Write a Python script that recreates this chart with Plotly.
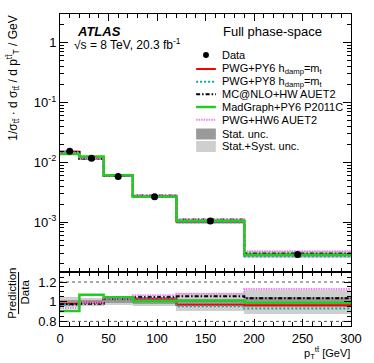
import plotly.graph_objects as go

# ---------------- data ----------------
bin_edges = [0, 20, 45, 75, 120, 190, 300]
data_vals = [0.0153, 0.0117, 0.0058, 0.00265, 0.00104, 0.000288]

pwg_py6 = [0.0150, 0.0116, 0.00597, 0.00273, 0.00101, 0.000278]
pwg_py8 = [0.0148, 0.0115, 0.00595, 0.00274, 0.000993, 0.000268]
mcatnlo = [0.0149, 0.0115, 0.00597, 0.00278, 0.00110, 0.000298]
madgraph = [0.0138, 0.0125, 0.00606, 0.00266, 0.00105, 0.000285]
pwg_hw6 = [0.0143, 0.0116, 0.00597, 0.00282, 0.00112, 0.000325]

r_pwg_py6 = [0.98, 0.99, 1.03, 1.03, 0.97, 0.965]
r_pwg_py8 = [0.97, 0.985, 1.025, 1.035, 0.955, 0.93]
r_mcatnlo = [0.975, 0.98, 1.03, 1.05, 1.055, 1.035]
r_madgraph = [0.905, 1.07, 1.045, 1.005, 1.01, 0.99]
r_pwg_hw6 = [0.935, 0.99, 1.03, 1.065, 1.08, 1.13]

stat_unc = [0.02, 0.015, 0.015, 0.02, 0.03, 0.05]
syst_unc = [0.05, 0.04, 0.035, 0.045, 0.09, 0.12]

legend_labels = ["Data", "PWG+PY6 h<sub>damp</sub>=m<sub>t</sub>",
                 "PWG+PY8 h<sub>damp</sub>=m<sub>t</sub>", "MC@NLO+HW AUET2",
                 "MadGraph+PY6 P2011C", "PWG+HW6 AUET2",
                 "Stat. unc.", "Stat.+Syst. unc."]

# ---------------- helpers ----------------
W, H = 374, 363
L, R, T, B = 60, 355, 14, 326
SPLIT = 271.5


def px(x):
    return (x - L) / (R - L)


def py(y):
    return (B - y) / (B - T)


centers = [(bin_edges[i] + bin_edges[i + 1]) / 2 for i in range(len(data_vals))]
widths = [bin_edges[i + 1] - bin_edges[i] for i in range(len(data_vals))]

FONT = "Liberation Sans, Arial, Helvetica, sans-serif"
STAT_C = "#9a9a9a"
SYST_C = "#cfcfcf"

series = [
    ("PWG+PY6", pwg_py6, r_pwg_py6, dict(color="#ff0000", width=2, dash="solid")),
    ("PWG+PY8", pwg_py8, r_pwg_py8, dict(color="#12a5a8", width=2, dash="2px,2px")),
    ("MC@NLO", mcatnlo, r_mcatnlo, dict(color="#000000", width=2, dash="4px,2px,1.5px,2px")),
    ("PWG+HW6", pwg_hw6, r_pwg_hw6, dict(color="#ee80ee", width=2, dash="1.5px,1px")),
    ("MadGraph", madgraph, r_madgraph, dict(color="#22cc22", width=2.5, dash="solid")),
]

fig = go.Figure()

# bands upper
fig.add_trace(go.Bar(x=centers, width=widths,
                     base=[d * (1 - s) for d, s in zip(data_vals, syst_unc)],
                     y=[d * 2 * s for d, s in zip(data_vals, syst_unc)],
                     marker=dict(color=SYST_C, line=dict(width=0)),
                     xaxis="x", yaxis="y", showlegend=False))
fig.add_trace(go.Bar(x=centers, width=widths,
                     base=[d * (1 - s) for d, s in zip(data_vals, stat_unc)],
                     y=[d * 2 * s for d, s in zip(data_vals, stat_unc)],
                     marker=dict(color=STAT_C, line=dict(width=0)),
                     xaxis="x", yaxis="y", showlegend=False))
# bands ratio
fig.add_trace(go.Bar(x=centers, width=widths,
                     base=[1 - s for s in syst_unc], y=[2 * s for s in syst_unc],
                     marker=dict(color=SYST_C, line=dict(width=0)),
                     xaxis="x2", yaxis="y2", showlegend=False))
fig.add_trace(go.Bar(x=centers, width=widths,
                     base=[1 - s for s in stat_unc], y=[2 * s for s in stat_unc],
                     marker=dict(color=STAT_C, line=dict(width=0)),
                     xaxis="x2", yaxis="y2", showlegend=False))

for name, vals, rat, ln in series:
    fig.add_trace(go.Scatter(x=bin_edges, y=list(vals) + [vals[-1]], mode="lines",
                             line=dict(shape="hv", **ln), xaxis="x", yaxis="y",
                             showlegend=False))
    fig.add_trace(go.Scatter(x=bin_edges, y=list(rat) + [rat[-1]], mode="lines",
                             line=dict(shape="hv", **ln), xaxis="x2", yaxis="y2",
                             showlegend=False))

fig.add_trace(go.Scatter(x=centers, y=data_vals, mode="markers",
                         marker=dict(color="black", size=7),
                         xaxis="x", yaxis="y", showlegend=False))

# ---------------- axes ----------------
minor_log = [k * 10 ** e for e in range(-4, 1) for k in range(2, 10)]
common_x = dict(range=[0, 300], ticks="inside", ticklen=7, tickwidth=1,
                tickcolor="black", dtick=50, tick0=0, showline=True,
                linecolor="black", linewidth=1, mirror="allticks",
                showgrid=False, zeroline=False,
                minor=dict(ticks="inside", ticklen=4, dtick=10, tick0=0,
                           tickcolor="black", showgrid=False))

fig.update_layout(
    width=W, height=H,
    margin=dict(l=L, r=W - R, t=T, b=H - B, pad=0),
    paper_bgcolor="white", plot_bgcolor="white",
    barmode="overlay", bargap=0,
    font=dict(family=FONT, size=13, color="black"),
    showlegend=False,
    hovermode=False,
    xaxis=dict(domain=[0, 1], anchor="y", showticklabels=False, **common_x),
    xaxis2=dict(domain=[0, 1], anchor="y2", matches="x", showticklabels=True,
                tickfont=dict(size=13), **common_x),
    yaxis=dict(type="log", domain=[py(SPLIT), 1], anchor="x",
               range=[-3.826, 0.479],
               tickvals=[1e-3, 1e-2, 1e-1, 1],
               ticktext=["10<sup>-3</sup>", "10<sup>-2</sup>", "10<sup>-1</sup>", "1"],
               ticks="inside", ticklen=8, tickcolor="black",
               showline=True, linecolor="black", linewidth=1, mirror="allticks",
               showgrid=False, zeroline=False, tickfont=dict(size=13),
               minor=dict(ticks="inside", ticklen=4, tickvals=minor_log,
                          tickcolor="black", showgrid=False)),
    yaxis2=dict(domain=[0, py(SPLIT)], anchor="x2", range=[0.753, 1.307],
                tickvals=[0.8, 1.0, 1.2], ticktext=["0.8", "1", "1.2"],
                ticks="inside", ticklen=7, tickcolor="black",
                showline=True, linecolor="black", linewidth=1, mirror="allticks",
                showgrid=False, zeroline=False, tickfont=dict(size=13),
                minor=dict(ticks="inside", ticklen=4, dtick=0.05, tick0=0,
                           tickcolor="black", showgrid=False)),
)

# reference dotted lines in ratio panel
for yv in (0.8, 1.2):
    fig.add_shape(type="line", xref="x2", yref="y2", x0=0, x1=300, y0=yv, y1=yv,
                  line=dict(color="#555555", width=1, dash="dot"), layer="below")

ann = []


def text(x, y, s, size=11, xanchor="left", yanchor="middle", angle=0, **kw):
    ann.append(dict(x=px(x), y=py(y), xref="paper", yref="paper", text=s,
                    showarrow=False, xanchor=xanchor, yanchor=yanchor,
                    textangle=angle, font=dict(size=size, family=FONT, color="black"),
                    **kw))


text(75, 31.5, "<b><i>ATLAS</i></b>", size=13)
text(72, 43.5, "√s = 8 TeV, 20.3 fb<sup>-1</sup>", size=12)
text(223, 31.5, "Full phase-space", size=13)

leg_y = [55, 69, 81.7, 94.3, 107, 119.7, 134, 146.3]
for lab, yy in zip(legend_labels, leg_y):
    text(222, yy, lab, size=11)

# legend symbols
fig.add_shape(type="circle", xref="paper", yref="paper",
              x0=px(205), x1=px(211), y0=py(58), y1=py(52),
              fillcolor="black", line=dict(color="black", width=0))
for (name, vals, rat, ln), yy in zip(
        [series[0], series[1], series[2], series[4], series[3]], leg_y[1:6]):
    fig.add_shape(type="line", xref="paper", yref="paper",
                  x0=px(198), x1=px(218), y0=py(yy), y1=py(yy),
                  line=dict(color=ln["color"], width=ln["width"], dash=ln["dash"]))
fig.add_shape(type="rect", xref="paper", yref="paper",
              x0=px(198), x1=px(218), y0=py(139.5), y1=py(128.5),
              fillcolor=STAT_C, line=dict(width=0))
fig.add_shape(type="rect", xref="paper", yref="paper",
              x0=px(198), x1=px(218), y0=py(152), y1=py(141),
              fillcolor=SYST_C, line=dict(width=0))

# axis titles
text(12, 78, "1/σ<sub>tt̄</sub> · d σ<sub>tt̄</sub> / d p<sup>tt̄</sup><sub>T</sub> / GeV",
     size=12, xanchor="center", angle=-90)
text(11, 293, "Prediction", size=11.5, xanchor="center", angle=-90)
text(25, 292, "Data", size=11.5, xanchor="center", angle=-90)
fig.add_shape(type="line", xref="paper", yref="paper",
              x0=px(18), x1=px(18), y0=py(272), y1=py(314),
              line=dict(color="black", width=1))
text(356, 353, "p<sub>T</sub><sup>tt̄</sup> [GeV]", size=11, xanchor="right")

fig.update_layout(annotations=ann)
fig.write_html(
    "out.html",
    config={"displayModeBar": False, "staticPlot": True},
    post_script="document.body.style.margin='0';document.body.style.overflow='hidden';",
)
